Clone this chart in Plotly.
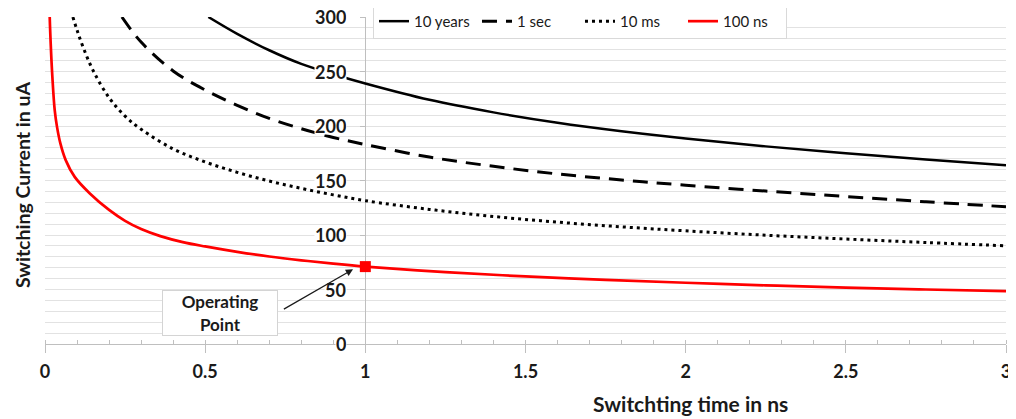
import plotly.graph_objects as go

# ---- data ----
x_10y = [0.51, 0.6, 0.7, 0.8, 0.9, 1.0, 1.2, 1.4, 1.6, 1.8, 2.0, 2.25, 2.5, 2.75, 3.0]
y_10y = [300, 284.5, 269.5, 257, 247.5, 239, 224, 212.5, 203, 195.2, 188.5, 181.3, 175, 169.3, 164]

x_1s = [0.24, 0.3, 0.4, 0.5, 0.6, 0.7, 0.8, 0.9, 1.0, 1.2, 1.4, 1.6, 1.8, 2.0, 2.25, 2.5, 2.75, 3.0]
y_1s = [300, 277, 250.5, 233, 219, 207, 197.5, 189.5, 183, 171.5, 163, 156, 150.5, 145.7, 140.3, 135.3, 130.5, 125.9]

x_10ms = [0.087, 0.1, 0.12, 0.15, 0.2, 0.25, 0.3, 0.4, 0.5, 0.6, 0.7, 0.8, 0.9, 1.0, 1.2, 1.4, 1.6, 1.8, 2.0, 2.25, 2.5, 2.75, 3.0]
y_10ms = [300, 288, 271.5, 251, 226, 209, 197, 179, 167, 157.5, 149.5, 142.8, 136.8, 131.5, 123.5, 117, 111.8, 107.5, 103.8, 99.8, 96.3, 93.1, 90.1]

x_100ns = [0.0147, 0.0178, 0.023, 0.0303, 0.0375, 0.048, 0.0646, 0.0927, 0.14, 0.2, 0.25, 0.3, 0.36, 0.43, 0.5, 0.6, 0.7, 0.8, 0.9, 1.0, 1.25, 1.5, 1.75, 2.0, 2.25, 2.5, 2.75, 3.0]
y_100ns = [300, 275.6, 245, 214.5, 199.2, 184, 168.7, 153.3, 138.1, 123, 113, 105.5, 99, 93.5, 89.5, 84.5, 80.3, 76.8, 73.7, 71, 66, 62, 58.8, 56.2, 53.8, 51.7, 50, 48.6]

op_x = [1.0]
op_y = [71]

y_tick_vals = [0, 50, 100, 150, 200, 250, 300]
y_tick_text = ["0", "50", "100", "150", "200", "250", "300"]
x_tick_vals = [0, 0.5, 1, 1.5, 2, 2.5, 3]
x_tick_text = ["0", "0.5", "1", "1.5", "2", "2.5", "3"]

FONT = "Lato"
TXT = "#1a1a1a"

fig = go.Figure()
fig.add_trace(go.Scatter(x=x_10y, y=y_10y, mode="lines", name="10 years",
                         line=dict(color="black", width=2.5, shape="spline")))
fig.add_trace(go.Scatter(x=x_1s, y=y_1s, mode="lines", name="1 sec",
                         line=dict(color="black", width=3, dash="15px,9px", shape="spline")))
fig.add_trace(go.Scatter(x=x_10ms, y=y_10ms, mode="lines", name="10 ms",
                         line=dict(color="black", width=3, dash="3px,4px", shape="spline")))
fig.add_trace(go.Scatter(x=x_100ns, y=y_100ns, mode="lines", name="100 ns",
                         line=dict(color="#ff0000", width=2.7, shape="spline")))
fig.add_trace(go.Scatter(x=op_x, y=op_y, mode="markers", showlegend=False,
                         marker=dict(symbol="square", size=11, color="#ff0000")))

annotations = []
for v, t in zip(y_tick_vals, y_tick_text):
    annotations.append(dict(x=1, y=v, xref="x", yref="y", text=t, showarrow=False,
                            xanchor="right", yanchor="middle", xshift=-18,
                            height=16, valign="middle",
                            bgcolor="white", borderpad=0,
                            font=dict(family=FONT, size=18, color=TXT, weight="bold")))

annotations.append(dict(x=0.546, y=28.4, xref="x", yref="y", text="Operating<br>Point",
                        showarrow=False, bgcolor="white", bordercolor="#d4d4d4", borderwidth=1,
                        width=112, height=42, borderpad=1,
                        font=dict(family=FONT, size=17, color=TXT, weight="bold")))
annotations.append(dict(x=0.9616, y=68.5, xref="x", yref="y", ax=0.741, ay=31.2,
                        axref="x", ayref="y", text="", showarrow=True,
                        arrowhead=2, arrowsize=1.2, arrowwidth=1.2, arrowcolor="#1a1a1a"))
annotations.append(dict(x=0.672, y=-0.183, xref="paper", yref="paper",
                        text="Switchting time in ns", showarrow=False,
                        xanchor="center", yanchor="middle",
                        font=dict(family=FONT, size=21, color=TXT, weight="bold")))
annotations.append(dict(x=-0.0239, y=0.486, xref="paper", yref="paper",
                        text="Switching Current in uA", showarrow=False, textangle=-90,
                        xanchor="center", yanchor="middle",
                        font=dict(family=FONT, size=19.5, color=TXT, weight="bold")))

# the page body has an 8px margin, so the figure is 8px smaller and margins are shifted
fig.update_layout(
    width=1008, height=411,
    margin=dict(l=37, r=10, t=9, b=75, autoexpand=False),
    paper_bgcolor="white", plot_bgcolor="white",
    font=dict(family=FONT, color=TXT),
    xaxis=dict(range=[0, 3], tickvals=x_tick_vals, ticktext=x_tick_text,
               showgrid=False, zeroline=False, automargin=False,
               showline=True, linecolor="#bfbfbf", linewidth=1,
               ticks="outside", ticklen=8, tickcolor="#bfbfbf", ticklabelstandoff=3,
               tickfont=dict(family=FONT, size=18, color=TXT, weight="bold"),
               minor=dict(dtick=0.1, ticks="inside", ticklen=4, tickcolor="#bfbfbf", showgrid=False)),
    yaxis=dict(range=[0, 300], dtick=50, anchor="free", position=1/3,
               showticklabels=False, zeroline=False, automargin=False,
               showline=True, linecolor="#bfbfbf", linewidth=1, layer="below traces",
               ticks="outside", ticklen=5, tickcolor="#bfbfbf",
               showgrid=True, gridcolor="#e2e2e2", gridwidth=1,
               minor=dict(dtick=10, showgrid=True, gridcolor="#e2e2e2", ticks="")),
    legend=dict(orientation="h", x=0.3413, y=1.04, xanchor="left", yanchor="top",
                bgcolor="white", bordercolor="#d9d9d9", borderwidth=1,
                entrywidth=58, entrywidthmode="pixels",
                font=dict(family=FONT, size=15, color=TXT), itemwidth=30),
    annotations=annotations,
    showlegend=True,
)

fig.write_html("out.html")
